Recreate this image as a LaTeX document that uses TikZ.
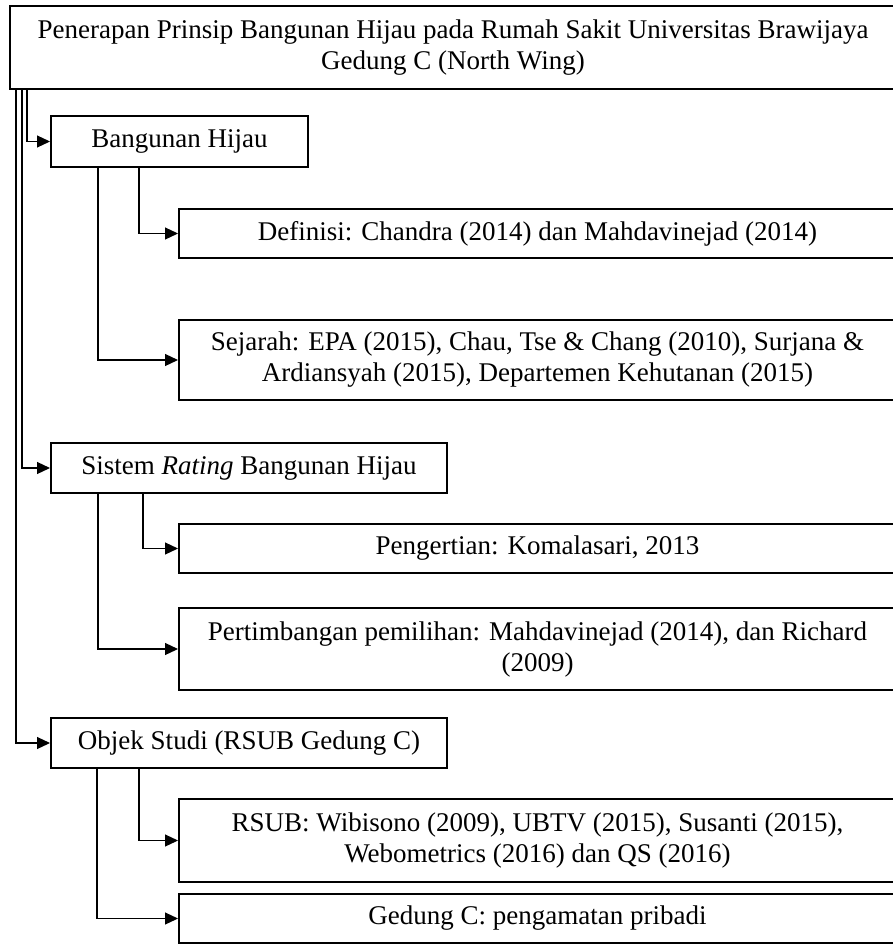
\documentclass[tikz,border=0pt]{standalone}
\usepackage{fontspec}
\setmainfont{Liberation Serif}
\usepackage{tikz}
\usetikzlibrary{arrows.meta}
\tikzstyle{kotak}=[draw,line width=2pt,rectangle,inner sep=0pt,align=center,anchor=north west,font=\fontsize{27}{31}\selectfont]
\tikzstyle{panah}=[draw,line width=1.2pt,-{Triangle[length=13pt,width=12pt]}]

\begin{document}
\begin{tikzpicture}[x=1pt,y=-1pt]
    \useasboundingbox (0,0) rectangle (892,945);
    \node[kotak,minimum width=886pt,minimum height=83pt] (judul) at (9,5)
        {Penerapan Prinsip Bangunan Hijau pada Rumah Sakit Universitas Brawijaya\\Gedung C (North Wing)};
    \foreach \pos/\name/\lebar/\tinggi/\isi in {
        {(50,115)/bh/257/51/{Bangunan Hijau}},
        {(178,208)/def/717/49/{Definisi: Chandra (2014) dan Mahdavinejad (2014)}},
        {(178,319)/sej/717/80/{Sejarah: EPA (2015), Chau, Tse \& Chang (2010), Surjana \&\\Ardiansyah (2015), Departemen Kehutanan (2015)}},
        {(50,442)/sr/396/50/{Sistem \textit{Rating} Bangunan Hijau}},
        {(178,523)/pgr/717/49/{Pengertian: Komalasari, 2013}},
        {(178,607)/ptb/717/82/{Pertimbangan pemilihan: Mahdavinejad (2014), dan Richard\\(2009)}},
        {(50,717)/obj/396/50/{Objek Studi (RSUB Gedung C)}},
        {(178,798)/rsub/717/83/{RSUB: Wibisono (2009), UBTV (2015), Susanti (2015),\\Webometrics (2016) dan QS (2016)}},
        {(178,893)/gdc/717/49/{Gedung C: pengamatan pribadi}}}
        \node[kotak,minimum width=\lebar pt,minimum height=\tinggi pt] (\name) at \pos {\isi};
    % dari judul
    \foreach \geser/\tujuan in {18/bh, 13/sr, 7/obj}
        \path[panah] ([xshift=\geser pt]judul.south west) |- (\tujuan.west);
    % cabang tiap bagian
    \foreach \asal/\geser/\tujuan in {bh/89/def, bh/48/sej, sr/93/pgr, sr/48/ptb, obj/89/rsub, obj/47/gdc}
        \path[panah] ([xshift=\geser pt]\asal.south west) |- (\tujuan.west);
\end{tikzpicture}
\end{document}
